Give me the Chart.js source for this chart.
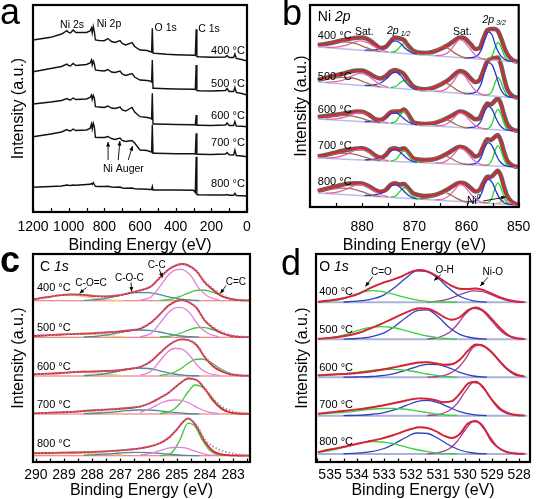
<!DOCTYPE html>
<html><head><meta charset="utf-8">
<script src="https://cdn.jsdelivr.net/npm/chart.js@4.4.1/dist/chart.umd.min.js"></script>
<style>
html,body{margin:0;padding:0;background:#fff;overflow:hidden;width:542px;height:499px;}
canvas{position:absolute;}
.lt{position:absolute;font-family:'Liberation Sans',Arial,sans-serif;font-size:36px;line-height:36px;color:#000;}
</style></head><body>
<canvas id="ca" style="left:0;top:0;width:271px;height:255px" width="271" height="255"></canvas>
<canvas id="cb" style="left:271px;top:0;width:271px;height:255px" width="271" height="255"></canvas>
<canvas id="cc" style="left:0;top:250px;width:271px;height:250px" width="271" height="250"></canvas>
<canvas id="cd" style="left:271px;top:250px;width:271px;height:250px" width="271" height="250"></canvas>
<div class="lt" style="left:0;top:-6px">a</div>
<div class="lt" style="left:282px;top:-5px">b</div>
<div class="lt" style="left:0;top:242px;font-weight:bold">c</div>
<div class="lt" style="left:281px;top:245px">d</div>
<script>
const FF = "'Liberation Sans', Arial, sans-serif";
const temps = ['400 °C', '500 °C', '600 °C', '700 °C', '800 °C'];

// ---------- Panel a: survey spectra ----------
const surveyE = [1200, 1100, 1040, 1010, 1000, 990, 975, 960, 900, 880, 872, 868, 862, 856, 850, 830, 800, 780, 760, 740, 712, 700, 680, 645, 630, 600, 560, 545, 535, 531, 527, 520, 450, 400, 300, 290, 285, 281, 270, 200, 120, 112, 100, 75, 68, 60, 30, 0];
const survey = [
  [172, 174.7, 178, 181.3, 179.5, 179, 182, 179.5, 179.5, 181, 184, 179, 185.5, 180.5, 172, 171.5, 171.3, 173.5, 170.5, 169.5, 171.5, 168.5, 167, 169.5, 165.5, 162, 161.5, 160.5, 160, 183.7, 159, 158.7, 157.7, 157.3, 156.7, 156.5, 182.7, 155.5, 155.3, 154.7, 155, 156.5, 154.5, 154.5, 158, 153.5, 152.5, 151],
  [140.3, 143.5, 145.5, 148, 146.5, 146, 148.5, 146.5, 147.5, 149, 152, 147, 151, 148, 142, 141.5, 141, 142.5, 140, 139.5, 141, 138, 136.5, 138.5, 135, 132, 131.5, 131, 130, 152, 123.7, 123.7, 123.3, 123, 122.7, 122.5, 147, 121.5, 121.3, 121, 121.5, 123.5, 120.5, 120.5, 124.5, 119.5, 118.5, 117],
  [108, 110, 111.5, 113.5, 112.5, 112, 114, 112.5, 113, 114.5, 117, 112.5, 116.5, 114, 105.3, 105, 104.5, 106, 104, 103.5, 105, 102, 101, 104.5, 100, 95.3, 94.5, 94, 93, 118.7, 88, 88, 87.7, 87.5, 87.3, 87, 97, 86.7, 86.7, 86.5, 87, 89, 86.5, 86.5, 90.5, 86, 85.7, 85.3],
  [75.3, 78, 80, 82.5, 81.5, 81, 83, 81.5, 82, 83.5, 88, 83, 88.7, 85, 74.7, 74.5, 74.5, 75.5, 73.5, 72.5, 74, 71.5, 70.5, 71.5, 69, 62, 61.5, 60.5, 60, 87, 58.7, 58.7, 58.5, 58.3, 58.2, 58, 78.7, 57.7, 57.7, 57.5, 58, 59.5, 57.3, 57, 62, 56.5, 56, 55.3],
  [24.7, 25.5, 26, 27, 26.7, 26.5, 27, 26.7, 27.5, 27.7, 28.5, 27.5, 29.3, 27.5, 25.7, 25.5, 25.5, 25.7, 25, 24.7, 25, 24, 23.7, 24, 23.3, 23, 22.7, 22.5, 22.5, 25.5, 22, 22, 22, 22, 21.7, 19.5, 55.3, 17.5, 17.3, 17, 17, 17.5, 16.8, 16.7, 18.7, 16.5, 16.3, 16]
];
const surveyTicks = [1200, 1000, 800, 600, 400, 200, 0];

// ---------- Panel b: Ni 2p ----------
const ni2pTicks = [880, 870, 860, 850];
const ni2pOffset = [145, 109, 76, 40, 2];
const ni2pBgE = [888.5, 850.2];
const ni2pBgLeft = [15, 16, 12, 9, 12];
const ni2pE = [888.5, 887, 885.5, 884, 882.5, 881, 880, 878.8, 877.5, 876.5, 875.5, 874.5, 873.7, 872.8, 872, 871.2, 870.3, 869.3, 868, 866.5, 865, 863.5, 862.3, 861.3, 860.3, 859.3, 858.3, 857.5, 856.8, 856, 855.3, 854.6, 854, 853.4, 852.8, 852.2, 851.5, 850.8, 850.2];
const ni2pFit = [
  [17, 18, 19.5, 21.5, 23, 24.3, 24.5, 22.5, 17.5, 14, 15, 21, 24.5, 23.5, 22, 16.5, 11.5, 9.5, 9, 10, 13, 17, 21.5, 24.5, 23.5, 18.5, 13, 14, 23, 32, 33, 33, 31, 24, 15, 8, 3.5, 1, 0.2],
  [18, 20, 22, 24, 26, 27.5, 27.5, 25, 21, 19.5, 22, 26.5, 28, 26.5, 24, 18, 12, 9.5, 8.7, 10, 13.5, 18, 23.5, 27, 25.5, 20, 16, 18, 27, 37, 39, 40, 40.5, 33, 20, 9, 3.5, 1, 0.2],
  [14, 15, 16, 17, 18.5, 19.5, 19.3, 16.5, 12, 11, 14, 19, 19.5, 19.5, 21.5, 17, 9.5, 7.5, 7, 7.5, 10, 13.5, 17, 19.5, 18.5, 15, 11.7, 13, 21, 27.5, 26.5, 30, 32.7, 27, 16, 7, 2.5, 0.7, 0.2],
  [10.5, 12, 14, 16, 17.5, 18.5, 18.7, 16.5, 11.5, 9.3, 12, 18, 18.7, 17.5, 18.7, 15, 9, 7.5, 7, 7.5, 10, 14, 18, 20.3, 19, 15, 10.5, 12.5, 20.5, 27.7, 27, 30, 32, 26, 15, 6.5, 2.5, 0.7, 0.2],
  [14, 16, 18, 20, 21.5, 21.7, 21.5, 19, 15, 13.3, 15, 20.5, 21.7, 20.5, 21, 17, 12, 10, 9, 9.5, 12, 16, 20, 22.3, 21.5, 17.5, 13.5, 15, 22, 28.3, 28, 31.5, 34.3, 29, 18, 9, 4, 1.5, 0.3]
];
// components: heights above the background line
const ni2pSat12E = [887, 885, 883, 881.5, 880.2, 879, 877.8, 876.5, 875];
const ni2pSat12 = [[0.2, 1.2, 4, 7.5, 9.3, 8, 5, 1.8, 0.3], [0.3, 1.8, 5.5, 10, 12, 10.5, 6.5, 2.5, 0.5], [0.2, 1.2, 4, 7.5, 9, 7.5, 4.5, 1.5, 0.3], [0.3, 1.5, 5, 9, 10.5, 9, 5.5, 2, 0.4], [0.3, 1.6, 5.5, 9.5, 11, 9.5, 5.8, 2, 0.4]];
const ni2pSat12bE = [888.5, 887, 885.5, 884, 882.5, 881, 879.5, 878, 876.5];
const ni2pSat12b = [[2, 3.7, 5.5, 7, 7.2, 6, 3.5, 1.2, 0.2], [2, 3.5, 5, 6.5, 7, 6, 3.5, 1.2, 0.2], [2, 3, 4, 5, 5.2, 4.3, 2.5, 0.8, 0.1], [1.5, 3, 4.5, 5.8, 6, 5, 3, 1, 0.2], [2, 3.5, 5, 6.2, 6.5, 5.3, 3.1, 1, 0.2]];
const ni2p12bE = [879.5, 878, 876.5, 875.3, 874.3, 873.5, 872.6, 871.6, 870.6, 869.5];
const ni2p12b = [[0.3, 1, 3, 7, 11, 12, 9.5, 4.5, 1.5, 0.2], [0.4, 1.3, 4, 9, 14.5, 16, 13, 6.5, 2, 0.3], [0.3, 1, 3, 6.5, 10, 10.5, 8, 4, 1.2, 0.2], [0.3, 1, 3, 7, 11, 12, 9, 4.5, 1.3, 0.2], [0.3, 1.1, 3.3, 7.5, 12, 13, 10, 5, 1.4, 0.2]];
const ni2p12gE = [874.5, 873.5, 872.8, 872.2, 871.8, 871.2, 870.5, 869.8, 869];
const ni2p12g = [[0.3, 2, 6, 9.5, 10, 7.5, 3, 0.8, 0.1], [0.3, 2, 5.5, 8, 8.5, 6.5, 2.8, 0.7, 0.1], [0.3, 2.5, 8, 12, 12.5, 9, 4, 1, 0.1], [0.3, 2.2, 7, 10.5, 11, 8, 3.5, 0.9, 0.1], [0.3, 2, 6.5, 10, 10.5, 7.8, 3.3, 0.8, 0.1]];
const ni2pSat32bE = [869, 867.5, 866, 865, 864.2, 863.2, 862, 860.8, 859.5];
const ni2pSat32b = [[0.3, 1.5, 5, 8.5, 9.5, 7.5, 3.5, 1, 0.1], [0.3, 1.5, 5, 8.5, 9.5, 7.5, 3.5, 1, 0.1], [0.2, 1.2, 3.8, 6.5, 7.3, 5.8, 2.8, 0.8, 0.1], [0.2, 1.3, 4.2, 7, 7.8, 6.2, 3, 0.9, 0.1], [0.2, 1.4, 4.4, 7.4, 8.2, 6.5, 3.2, 0.9, 0.1]];
const ni2pSat32E = [866, 864.5, 863.2, 862.2, 861.3, 860.4, 859.4, 858.4, 857.3, 856];
const ni2pSat32 = [[0.2, 1.5, 6, 13, 18, 16, 10, 4, 1, 0.1], [0.2, 1.5, 6.5, 14, 20, 18, 11, 4.5, 1.2, 0.1], [0.2, 1.2, 5, 10.5, 14.5, 13, 8, 3.3, 0.8, 0.1], [0.2, 1.3, 5.5, 11.5, 16, 14.5, 9, 3.8, 0.9, 0.1], [0.2, 1.4, 5.8, 12, 17, 15.5, 9.5, 4, 1, 0.1]];
const ni2p32bE = [860.5, 859, 858, 857.2, 856.5, 855.8, 855.1, 854.4, 853.6, 852.8, 852, 851];
const ni2p32b = [[0.2, 1, 3, 9, 20, 28, 25, 14, 6, 2, 0.5, 0.1], [0.2, 1, 3.5, 11, 24, 33, 31, 22, 9, 2.5, 0.6, 0.1], [0.2, 0.8, 2.5, 8, 18, 23, 20, 12, 4.5, 1.2, 0.3, 0.1], [0.2, 0.8, 2.5, 8, 18, 23, 20, 12, 4.5, 1.2, 0.3, 0.1], [0.2, 0.8, 2.6, 8.5, 19, 24, 21, 13, 5, 1.4, 0.4, 0.1]];
const ni2p32gE = [856.8, 855.8, 855.1, 854.5, 854, 853.5, 852.9, 852.3, 851.5];
const ni2p32g = [[0.1, 0.8, 4.5, 13, 18, 15, 7, 1.8, 0.2], [0.1, 1, 5, 14, 19, 16, 8, 2, 0.2], [0.1, 1, 6, 16, 20.5, 17, 8, 1.8, 0.2], [0.1, 1, 6, 16, 20.5, 17, 8, 1.8, 0.2], [0.1, 1, 6, 16.5, 21, 17.5, 8.5, 2.2, 0.3]];
const ni0E = [854.5, 853.6, 853, 852.6, 852.1, 851.5, 850.8];
const ni0_800 = [0.1, 1.5, 3.5, 4.5, 3.5, 1.5, 0.2];

// ---------- Panel c: C 1s ----------
const c1sTicks = [290, 289, 288, 287, 286, 285, 284, 283];
const c1sOffset = [161.3, 124.7, 86, 48, 6.3];
const c1sE = [290.1, 289.6, 289.1, 288.7, 288.3, 287.9, 287.5, 287.1, 286.7, 286.3, 285.9, 285.6, 285.3, 285.0, 284.8, 284.6, 284.3, 284.0, 283.7, 283.4, 283.1, 282.8, 282.4];
const c1sFit = [
  [1.2, 3.5, 5.5, 6.3, 5.8, 4.6, 4.2, 5.2, 7.5, 10.3, 14.5, 23, 31, 35.5, 36.7, 35.3, 29.5, 18, 10.5, 4.5, 1.8, 0.5, 0.2],
  [1.3, 2, 2.8, 3.2, 3.6, 4.2, 4.8, 5.6, 6.8, 8.5, 15, 23, 31.5, 36.5, 37.3, 35.5, 29.5, 16.5, 9, 4, 1.5, 0.5, 0.2],
  [1.7, 2.3, 3, 3.8, 4.3, 4.6, 5, 5.5, 7, 9, 15, 23, 30.5, 35.5, 36.7, 36, 31, 18.5, 9.5, 4.5, 1.7, 0.6, 0.2],
  [0.7, 1.2, 1.7, 2.2, 3, 3.8, 4.4, 5, 6, 7.3, 11.5, 16, 21, 28, 32.5, 35.5, 34, 25, 13, 5, 1.5, 0.5, 0.2],
  [2.5, 2.7, 3, 3.2, 3.5, 3.8, 4.3, 5, 6, 7.3, 9.5, 12.5, 17.5, 26, 33, 37.3, 29.5, 14, 4.5, 1.3, 0.4, 0.2, 0.1]
];
const c1sData = [
  [1.5, 3.3, 5.8, 6.5, 5.5, 4.8, 4.4, 5.4, 7.4, 10.5, 14.8, 22.5, 31, 35.8, 36.5, 35.5, 30, 19, 12, 6, 2.5, 1, 0.4],
  [1.5, 2.2, 2.6, 3.4, 3.5, 4.4, 4.7, 5.8, 6.9, 8.8, 14.8, 23.2, 31.3, 36.8, 37.2, 35.8, 30, 17.5, 10, 5.5, 2.5, 1, 0.4],
  [1.9, 2.1, 3.2, 3.6, 4.5, 4.5, 5.2, 5.7, 7.1, 9.3, 15.2, 22.8, 30.6, 35.7, 36.5, 36.2, 31.5, 19.5, 11, 6, 2.5, 1, 0.4],
  [0.9, 1.1, 1.9, 2.1, 3.2, 3.7, 4.6, 5.1, 6.2, 7.5, 11.6, 16.3, 21.2, 28, 32.4, 35.6, 34.4, 26, 15, 7.5, 3.5, 1.5, 0.5],
  [2.6, 2.6, 3.1, 3.3, 3.6, 3.9, 4.4, 5.1, 6.1, 7.4, 9.7, 12.8, 17.8, 26.2, 33, 37, 30.5, 16, 9, 5, 2.7, 1.2, 0.5]
];
const c1sCCE = [286.3, 285.9, 285.6, 285.3, 285.1, 284.9, 284.7, 284.5, 284.2, 283.9, 283.5];
const c1sCC = [[0.5, 4, 14, 25.5, 30, 31.4, 30, 25, 12, 4.5, 0.5], [0.5, 4, 14, 24.5, 29, 30, 28.5, 23, 11, 4, 0.5], [0.6, 5, 15, 24.5, 27.5, 27.5, 25, 19, 8.5, 3, 0.4], [1.5, 6, 10.5, 13.5, 14, 13.8, 12.5, 10, 5.5, 2.2, 0.4], [0.5, 2.5, 5, 7.5, 8.2, 8.4, 7.8, 6, 3, 0.9, 0.1]];
const c1sCdCE = [285.6, 285.2, 284.9, 284.6, 284.35, 284.1, 283.85, 283.6, 283.3, 283.0, 282.6];
const c1sCdC = [[0.3, 1.5, 4, 7.5, 10, 10.7, 9.5, 7, 3.5, 1.2, 0.2], [0.3, 1.5, 3.8, 7, 9.3, 10, 8.8, 6.5, 3.3, 1.1, 0.2], [0.5, 2.5, 6.5, 12.5, 16.5, 17, 14.5, 10, 5, 1.7, 0.3], [0.4, 3, 10, 22, 29, 27, 20, 11, 4, 1, 0.2], [0.1, 2.5, 15, 32.5, 29, 16, 6, 1.5, 0.3, 0.1, 0]];
const c1sCOCE = [288.3, 287.7, 287.2, 286.8, 286.4, 286.0, 285.6, 285.2, 284.7, 284.2];
const c1sCOC = [[0.3, 1.5, 4, 6.8, 8.2, 8, 6, 3.3, 1, 0.2], [0.3, 1.5, 3.8, 6, 7.3, 7, 5.3, 2.8, 0.8, 0.2], [0.4, 1.6, 4, 6.5, 8, 7.5, 5.2, 2.5, 0.7, 0.1], [0.3, 1, 2.2, 3.3, 4, 4, 3.2, 1.8, 0.5, 0.1], [0.5, 1.3, 2.3, 3, 3.3, 3.1, 2.3, 1.2, 0.3, 0]];
const c1sCOdCE = [290.1, 289.7, 289.3, 288.9, 288.5, 288.1, 287.7, 287.3, 286.9];
const c1sCOdC = [[1.2, 3, 4.8, 5.6, 5, 3.3, 1.6, 0.5, 0.1], [1, 1.8, 2.5, 3, 3.2, 3, 2.3, 1.3, 0.5], [1.5, 2, 2.8, 3.4, 3.8, 3.5, 2.5, 1.3, 0.4], [0.6, 1, 1.5, 2, 2.3, 2.4, 2.1, 1.3, 0.5], [1.5, 1.8, 2, 2.2, 2.3, 2.2, 1.9, 1.4, 0.8]];

// ---------- Panel d: O 1s ----------
const o1sTicks = [535, 534, 533, 532, 531, 530, 529, 528];
const o1sOffset = [159.7, 122.7, 84.7, 46.3, 8];
const o1sE = [535.45, 535.1, 534.7, 534.3, 533.9, 533.5, 533.1, 532.7, 532.3, 532.0, 531.7, 531.4, 531.1, 530.8, 530.5, 530.2, 529.9, 529.6, 529.3, 529.0, 528.7, 528.4, 528.1, 527.8];
const o1sFit = [
  [0.5, 1.5, 3, 5.5, 9, 14.5, 19, 22.5, 26.5, 30.5, 32.3, 31, 27, 21.5, 16.5, 13.5, 13.3, 13.8, 12, 8.5, 5, 2.3, 0.8, 0.2],
  [0.5, 1.2, 2.3, 4, 6.8, 11, 15.5, 20.5, 25.5, 29, 31, 30.5, 27.5, 22.5, 19.5, 22, 29, 31.8, 28, 20, 11, 4, 1.2, 0.3],
  [2, 2.5, 3, 3.6, 4.5, 5.8, 7.5, 9.5, 11.8, 13.5, 14.8, 15, 14, 12.5, 13, 17.5, 26.5, 32.8, 31, 24.5, 15.5, 7.5, 2.8, 0.8],
  [2, 3, 4.2, 5.3, 6.6, 8.2, 10, 12.2, 14.5, 16.3, 17.3, 17, 15.5, 13.5, 14.5, 22, 32, 34, 27, 15.5, 7, 2.5, 0.7, 0.2],
  [2, 4, 6, 8.2, 10.8, 13, 15.3, 18.5, 22.3, 25, 26.7, 26, 23, 18.5, 16, 20, 30.5, 33, 25.5, 12, 5, 1.6, 0.5, 0.2]
];
const o1sCOE = [535.4, 534.9, 534.4, 534.0, 533.7, 533.4, 533.1, 532.7, 532.3, 531.9, 531.4, 530.9, 530.3];
const o1sCO = [[0.3, 1.5, 4.5, 8.5, 10.8, 11.7, 11, 8.5, 5.5, 3, 1, 0.3, 0], [0.5, 2, 5, 8.5, 10.8, 12.2, 12.7, 11.8, 9.5, 6.5, 3.3, 1.2, 0.2], [1.5, 2.5, 3.8, 5, 6.2, 7.2, 7.8, 8, 7.3, 5.8, 3.3, 1.2, 0.2], [1.5, 2.5, 3.6, 4.8, 5.8, 6.7, 7.2, 7.3, 6.7, 5.3, 3, 1, 0.2], [1.5, 4, 7.5, 10.2, 11.7, 12.3, 12, 10.5, 7.8, 5, 2.3, 0.7, 0.1]];
const o1sOHE = [534.5, 534.0, 533.5, 533.0, 532.6, 532.2, 531.8, 531.4, 531.0, 530.6, 530.2, 529.7, 529.2];
const o1sOH = [[0.3, 1.2, 3, 7.5, 15, 24, 31.5, 30.5, 24, 14, 6, 1.5, 0.2], [0.2, 0.8, 2.5, 6.5, 13, 21.5, 28.5, 29.5, 22.5, 12, 5, 1.3, 0.2], [0.1, 0.3, 0.8, 2, 4, 7, 10.5, 13, 12.8, 9.5, 5, 1.3, 0.2], [0.1, 0.4, 1.2, 3, 6, 10, 14, 15.3, 13, 8.5, 4, 1, 0.1], [0.2, 0.8, 2.3, 5.5, 10.5, 16.5, 21, 20.5, 15.5, 9, 4, 1, 0.1]];
const o1sNiOE = [531.4, 531.0, 530.6, 530.3, 530.0, 529.7, 529.4, 529.1, 528.8, 528.5, 528.2, 527.9];
const o1sNiO = [[0.2, 1.2, 3.5, 6.5, 9.5, 11.5, 11, 8.5, 5, 2.3, 0.7, 0.1], [0.3, 1.8, 6.5, 14.5, 25, 31, 29, 21, 11.5, 4.5, 1.2, 0.2], [0.1, 0.8, 3.5, 8.5, 18, 30, 32.5, 27.5, 18, 9, 3, 0.7], [0.2, 1.2, 5, 12, 24, 33, 31, 19, 8, 2.5, 0.6, 0.1], [0.2, 1.3, 5, 12.5, 24, 32.5, 30, 18, 7, 2, 0.5, 0.1]];

// ---------- helpers ----------
function fontFor(st, size) {
  if (st === 'i') return 'italic ' + size + 'px ' + FF;
  if (st === 'sub' || st === 'sup') return Math.round(size * 0.68) + 'px ' + FF;
  if (st === 'isub') return 'italic ' + Math.round(size * 0.68) + 'px ' + FF;
  return size + 'px ' + FF;
}
function drawRich(ctx, segs, x, y, align, size) {
  let w = 0;
  segs.forEach(s => { ctx.font = fontFor(s[1], size); w += ctx.measureText(s[0]).width; });
  let cx = align === 'left' ? x : (align === 'right' ? x - w : x - w / 2);
  ctx.textBaseline = 'middle'; ctx.textAlign = 'left'; ctx.fillStyle = '#000';
  segs.forEach(s => {
    ctx.font = fontFor(s[1], size);
    const dy = (s[1] === 'sub' || s[1] === 'isub') ? size * 0.3 : (s[1] === 'sup' ? -size * 0.35 : 0);
    ctx.fillText(s[0], cx, y + dy);
    cx += ctx.measureText(s[0]).width;
  });
}
const deco = {
  id: 'deco',
  afterDatasetsDraw(chart, args, o) {
    const ctx = chart.ctx, ca = chart.chartArea, sx = chart.scales.x, sy = chart.scales.y;
    ctx.save();
    ctx.strokeStyle = '#000'; ctx.fillStyle = '#000';
    ctx.lineWidth = 1.2;
    (o.minor || []).forEach(v => {
      const px = Math.round(sx.getPixelForValue(v)) + 0.5;
      ctx.beginPath(); ctx.moveTo(px, ca.bottom); ctx.lineTo(px, ca.bottom - o.tickLen); ctx.stroke();
    });
    ctx.lineWidth = 2.2;
    ctx.strokeRect(ca.left, ca.top, ca.right - ca.left, ca.bottom - ca.top);
    (o.arrows || []).forEach(a => {
      const x1 = sx.getPixelForValue(a[0]), y1 = sy.getPixelForValue(a[1]);
      const x2 = sx.getPixelForValue(a[2]), y2 = sy.getPixelForValue(a[3]);
      ctx.lineWidth = 0.9;
      ctx.beginPath(); ctx.moveTo(x1, y1); ctx.lineTo(x2, y2); ctx.stroke();
      const ang = Math.atan2(y2 - y1, x2 - x1), L = 4.5, W = 2;
      ctx.beginPath(); ctx.moveTo(x2, y2);
      ctx.lineTo(x2 - L * Math.cos(ang) + W * Math.sin(ang), y2 - L * Math.sin(ang) - W * Math.cos(ang));
      ctx.lineTo(x2 - L * Math.cos(ang) - W * Math.sin(ang), y2 - L * Math.sin(ang) + W * Math.cos(ang));
      ctx.closePath(); ctx.fill();
    });
    (o.texts || []).forEach(t => drawRich(ctx, t.s, sx.getPixelForValue(t.x), sy.getPixelForValue(t.y), t.a || 'center', t.f || 10.5));
    ctx.restore();
  }
};
const P = (xs, ys, off) => xs.map((x, i) => ({x: x, y: ys[i] + off}));
function ln(points, color, width, order, extra) {
  return Object.assign({data: points, borderColor: color, backgroundColor: color, borderWidth: width, pointRadius: 0,
    fill: false, order: order, cubicInterpolationMode: 'monotone'}, extra || {});
}
function steps(a, b, s) { const r = []; for (let v = a; v <= b + 1e-9; v += s) r.push(+v.toFixed(2)); return r; }

function makeChart(id, c) {
  return new Chart(document.getElementById(id), {
    type: 'line',
    data: {datasets: c.datasets},
    options: {
      responsive: false, animation: false, devicePixelRatio: 1, events: [],
      layout: {padding: {top: c.padTop, right: c.padRight, left: 0, bottom: 0}},
      plugins: {legend: {display: false}, tooltip: {enabled: false},
        deco: {minor: c.minor, tickLen: c.tickLen, texts: c.texts, arrows: c.arrows}},
      scales: {
        x: {type: 'linear', reverse: true, min: c.xmin, max: c.xmax,
          afterBuildTicks: s => { s.ticks = c.ticks.map(v => ({value: v})); },
          afterFit: s => { s.height = c.xh; },
          ticks: {font: {family: FF, size: 14}, color: '#000', padding: c.tickPad, maxRotation: 0, autoSkip: false,
            callback: v => String(v)},
          grid: {display: false, drawTicks: false}, border: {display: false},
          title: {display: true, text: 'Binding Energy (eV)', font: {family: FF, size: 16}, color: '#000', padding: {top: 0, bottom: 0}}},
        y: {type: 'linear', min: 0, max: c.ymax,
          afterFit: s => { s.width = c.yw; },
          ticks: {display: false}, grid: {display: false, drawTicks: false}, border: {display: false},
          title: {display: true, text: 'Intensity (a.u.)', font: {family: FF, size: 16}, color: '#000', padding: {top: c.yTitlePad, bottom: 0}}}
      }
    },
    plugins: [deco]
  });
}

// ---------- Panel a ----------
(function () {
  const ds = survey.map(s => ln(P(surveyE, s, 0), '#111', 1.4, 0, {cubicInterpolationMode: 'default', tension: 0}));
  const tY = [161.3, 128, 96, 69.5, 28];
  const texts = [
    {s: [['Ni 2s', 'n']], x: 981, y: 187}, {s: [['Ni 2p', 'n']], x: 774, y: 188},
    {s: [['O 1s', 'n']], x: 456, y: 184}, {s: [['C 1s', 'n']], x: 213, y: 183},
    {s: [['Ni Auger', 'n']], x: 693, y: 43}
  ].concat(temps.map((t, i) => ({s: [[t, 'n']], x: 12, y: tY[i], a: 'right', f: 11})));
  makeChart('ca', {datasets: ds, xmin: 0, xmax: 1200, ymax: 207, ticks: surveyTicks, padTop: 5, padRight: 24,
    xh: 43, yw: 33, tickPad: 7, yTitlePad: 9, minor: steps(0, 1200, 100), tickLen: 4, texts: texts,
    arrows: [[779, 52, 779, 70], [722, 52, 713, 71], [666, 52, 642, 66]]});
})();

// ---------- Panel b ----------
(function () {
  const ds = [];
  const PB = (xs, ys, off, L) => xs.map((x, i) => ({x: x, y: off + L * (x - ni2pBgE[1]) / (ni2pBgE[0] - ni2pBgE[1]) + ys[i]}));
  const comps = [
    [ni2pSat12bE, ni2pSat12b, '#a86a55'], [ni2pSat12E, ni2pSat12, '#e668b0'],
    [ni2p12bE, ni2p12b, '#2838d0'], [ni2p12gE, ni2p12g, '#2ed02e'],
    [ni2pSat32bE, ni2pSat32b, '#a86a55'], [ni2pSat32E, ni2pSat32, '#e668b0'],
    [ni2p32bE, ni2p32b, '#2838d0'], [ni2p32gE, ni2p32g, '#2ed02e']
  ];
  for (let t = 0; t < 5; t++) {
    const off = ni2pOffset[t], L = ni2pBgLeft[t];
    ds.push(ln(P(ni2pE, ni2pFit[t], off), '#ee1c24', 1.7, 0));
    ds.push(ln(P(ni2pE, ni2pFit[t], off), 'rgba(70,70,70,0.85)', 4.5, 6));
    ds.push(ln([{x: ni2pBgE[0], y: off + L}, {x: ni2pBgE[1], y: off}], '#b9bfe6', 1.5, 4));
    comps.forEach(c => ds.push(ln(PB(c[0], c[1][t], off, L), c[2], 1.3, 2)));
  }
  ds.push(ln(PB(ni0E, ni0_800, ni2pOffset[4], ni2pBgLeft[4]), '#f0a040', 1.2, 3));
  const tY = [171, 130, 97, 61, 25];
  const texts = [
    {s: [['Ni ', 'n'], ['2p', 'i']], x: 888.5, y: 190, a: 'left', f: 14},
    {s: [['Sat.', 'n']], x: 879.6, y: 175}, {s: [['2', 'i'], ['p', 'i'], [' 1/2', 'isub']], x: 873, y: 176},
    {s: [['Sat.', 'n']], x: 860.8, y: 175}, {s: [['2', 'i'], ['p', 'i'], [' 3/2', 'isub']], x: 854.7, y: 187},
    {s: [['Ni', 'n'], ['0', 'sup']], x: 858.6, y: 6}
  ].concat(temps.map((t, i) => ({s: [[t, 'n']], x: 888.5, y: tY[i], a: 'left', f: 11})));
  makeChart('cb', {datasets: ds, xmin: 850, xmax: 890, ymax: 202, ticks: ni2pTicks, padTop: 5, padRight: 13,
    xh: 48, yw: 39, tickPad: 11.6, yTitlePad: 21, minor: steps(850, 885, 5), tickLen: 4, texts: texts,
    arrows: [[856.8, 6, 852.5, 10]]});
})();

// ---------- Panel c ----------
(function () {
  const ds = [];
  const comps = [
    [c1sCCE, c1sCC, '#e47ed8'], [c1sCdCE, c1sCdC, '#3cc83c'],
    [c1sCOCE, c1sCOC, '#4f8a9c'], [c1sCOdCE, c1sCOdC, '#e8d070']
  ];
  for (let t = 0; t < 5; t++) {
    const off = c1sOffset[t];
    ds.push(ln(P(c1sE, c1sData[t], off), 'rgba(140,145,185,0.9)', 2, 0, {borderDash: [1.5, 2]}));
    ds.push(ln(P(c1sE, c1sFit[t], off), '#ee1c24', 1.8, 1));
    ds.push(ln([{x: 290.1, y: off}, {x: 282.4, y: off}], '#e86a6a', 1.1, 4));
    comps.forEach(c => ds.push(ln(P(c[0], c[1][t], off), c[2], 1.3, 2)));
  }
  const tY = [173.7, 133.7, 95.3, 57, 18];
  const texts = [
    {s: [['C ', 'n'], ['1s', 'i']], x: 289.85, y: 195, a: 'left', f: 14},
    {s: [['C-O=C', 'n']], x: 288.04, y: 178.7, f: 10}, {s: [['C-O-C', 'n']], x: 286.68, y: 184, f: 10},
    {s: [['C-C', 'n']], x: 285.71, y: 197, f: 10}, {s: [['C=C', 'n']], x: 282.9, y: 180, f: 10}
  ].concat(temps.map((t, i) => ({s: [[t, 'n']], x: 289.96, y: tY[i], a: 'left', f: 11})));
  makeChart('cc', {datasets: ds, xmin: 282.4, xmax: 290.1, ymax: 208, ticks: c1sTicks, padTop: 4, padRight: 21,
    xh: 38, yw: 33, tickPad: 4.6, yTitlePad: 9, minor: steps(282.5, 290, 0.5), tickLen: 3.5, texts: texts,
    arrows: [[288.2, 174.5, 288.45, 168.5], [286.62, 179.5, 286.6, 170.5], [285.62, 192.5, 285.5, 184.5], [283.25, 176.5, 283.45, 168.5]]});
})();

// ---------- Panel d ----------
(function () {
  const ds = [];
  const comps = [[o1sCOE, o1sCO, '#3cd03c'], [o1sOHE, o1sOH, '#3040c0'], [o1sNiOE, o1sNiO, '#a8389a']];
  for (let t = 0; t < 5; t++) {
    const off = o1sOffset[t];
    ds.push(ln(P(o1sE, o1sFit[t], off), 'rgba(120,70,120,0.75)', 1.6, 0, {borderDash: [1.5, 2.5]}));
    ds.push(ln(P(o1sE, o1sFit[t], off), '#ee1c24', 1.9, 1));
    ds.push(ln([{x: 535.45, y: off}, {x: 527.7, y: off}], '#a9b2da', 2, 4));
    comps.forEach(c => ds.push(ln(P(c[0], c[1][t], off), c[2], 1.3, 2)));
  }
  const tY = [170.3, 131.7, 93.7, 57, 20.3];
  const texts = [
    {s: [['O ', 'n'], ['1s', 'i']], x: 535.4, y: 195.3, a: 'left', f: 14},
    {s: [['C=O', 'n']], x: 533.1, y: 189.3, f: 10}, {s: [['O-H', 'n']], x: 530.76, y: 192, f: 10},
    {s: [['Ni-O', 'n']], x: 528.98, y: 189.3, f: 10}
  ].concat(temps.map((t, i) => ({s: [[t, 'n']], x: 535.4, y: tY[i], a: 'left', f: 11})));
  makeChart('cd', {datasets: ds, xmin: 527.6, xmax: 535.52, ymax: 208, ticks: o1sTicks, padTop: 4, padRight: 12,
    xh: 38, yw: 45, tickPad: 4.6, yTitlePad: 22, minor: steps(528, 535.5, 0.5), tickLen: 3.5, texts: texts,
    arrows: [[533.42, 185.3, 533.69, 175.5], [530.9, 187.5, 531.15, 181.5], [529.16, 184.7, 529.44, 176]]});
})();
</script>
</body></html>
